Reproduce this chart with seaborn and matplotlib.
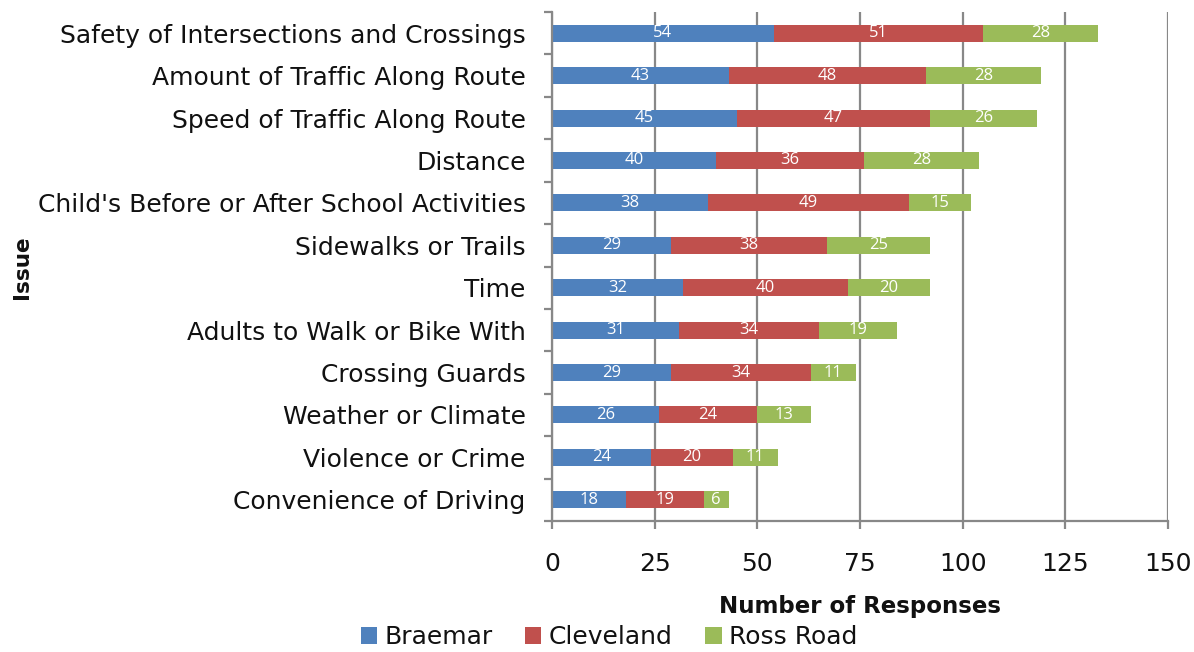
import matplotlib
matplotlib.use("Agg")
import matplotlib.pyplot as plt
from matplotlib.patches import Patch
from matplotlib.ticker import FixedLocator
import numpy as np
import pandas as pd
import seaborn as sns

issues = [
    "Safety of Intersections and Crossings",
    "Amount of Traffic Along Route",
    "Speed of Traffic Along Route",
    "Distance",
    "Child's Before or After School Activities",
    "Sidewalks or Trails",
    "Time",
    "Adults to Walk or Bike With",
    "Crossing Guards",
    "Weather or Climate",
    "Violence or Crime",
    "Convenience of Driving",
]
braemar = [54, 43, 45, 40, 38, 29, 32, 31, 29, 26, 24, 18]
cleveland = [51, 48, 47, 36, 49, 38, 40, 34, 34, 24, 20, 19]
ross_road = [28, 28, 26, 28, 15, 25, 20, 19, 11, 13, 11, 6]

series_names = ["Braemar", "Cleveland", "Ross Road"]
series_colors = ["#4F81BD", "#C0504D", "#9BBB59"]
x_ticks = [0, 25, 50, 75, 100, 125, 150]

sns.set_style("white")
plt.rcParams["font.family"] = ["DejaVu Sans"]

df = pd.DataFrame({"Issue": issues, "Braemar": braemar,
                   "Cleveland": cleveland, "Ross Road": ross_road})
cum = df[series_names].cumsum(axis=1)

fig = plt.figure(figsize=(11.94, 6.52), dpi=100)
ax = fig.add_axes([552 / 1194, 1 - 521 / 652, 616 / 1194, 509 / 652])

# Stacked bars: draw cumulative totals from the outermost segment inward
for name, color in reversed(list(zip(series_names, series_colors))):
    sns.barplot(data=cum, x=name, y=df["Issue"], color=color, orient="h",
                width=0.4, ax=ax, saturation=1, edgecolor="none")

# Value labels centred in each segment
for name in series_names:
    for i, (v, c) in enumerate(zip(df[name], cum[name])):
        ax.text(c - v / 2, i, str(v), ha="center", va="center",
                color="white", fontsize=12, family="Open Sans")

grid_color = "#888888"
text_color = "#111111"
ax.set_xlim(0, 150)
ax.set_ylim(len(issues) - 0.5, -0.5)
ax.xaxis.set_major_locator(FixedLocator(x_ticks))
ax.set_axisbelow(True)
ax.xaxis.grid(True, color=grid_color, linewidth=1.6)
ax.yaxis.grid(False)

for side in ["top", "right"]:
    ax.spines[side].set_visible(False)
for side in ["left", "bottom"]:
    ax.spines[side].set_color(grid_color)
    ax.spines[side].set_linewidth(1.6)

ax.yaxis.set_minor_locator(FixedLocator(np.arange(-0.5, len(issues), 1.0)))
ax.tick_params(axis="y", which="major", length=0, pad=19, labelsize=18,
               labelcolor=text_color)
ax.tick_params(axis="y", which="minor", length=6, width=1.6, color=grid_color,
               direction="out", left=True)
ax.tick_params(axis="x", which="major", length=6, width=1.6, color=grid_color,
               direction="out", bottom=True, pad=16, labelsize=18,
               labelcolor=text_color)

ax.set_xlabel("Number of Responses", fontsize=16.5, fontweight="bold",
              labelpad=14, color=text_color)
ax.set_ylabel("")
fig.text(22 / 1194, 1 - 267 / 652, "Issue", rotation=90, ha="center",
         va="center", fontsize=15.5, fontweight="bold", color=text_color)

handles = [Patch(facecolor=c, edgecolor="none", label=n)
           for n, c in zip(series_names, series_colors)]
fig.legend(handles=handles, loc="center", ncol=3,
           bbox_to_anchor=(609 / 1194, 1 - 637 / 652), frameon=False,
           fontsize=18, handlelength=0.65, handleheight=0.65,
           handletextpad=0.3, columnspacing=1.3, labelcolor=text_color)

fig.savefig("out.png", dpi=100)
